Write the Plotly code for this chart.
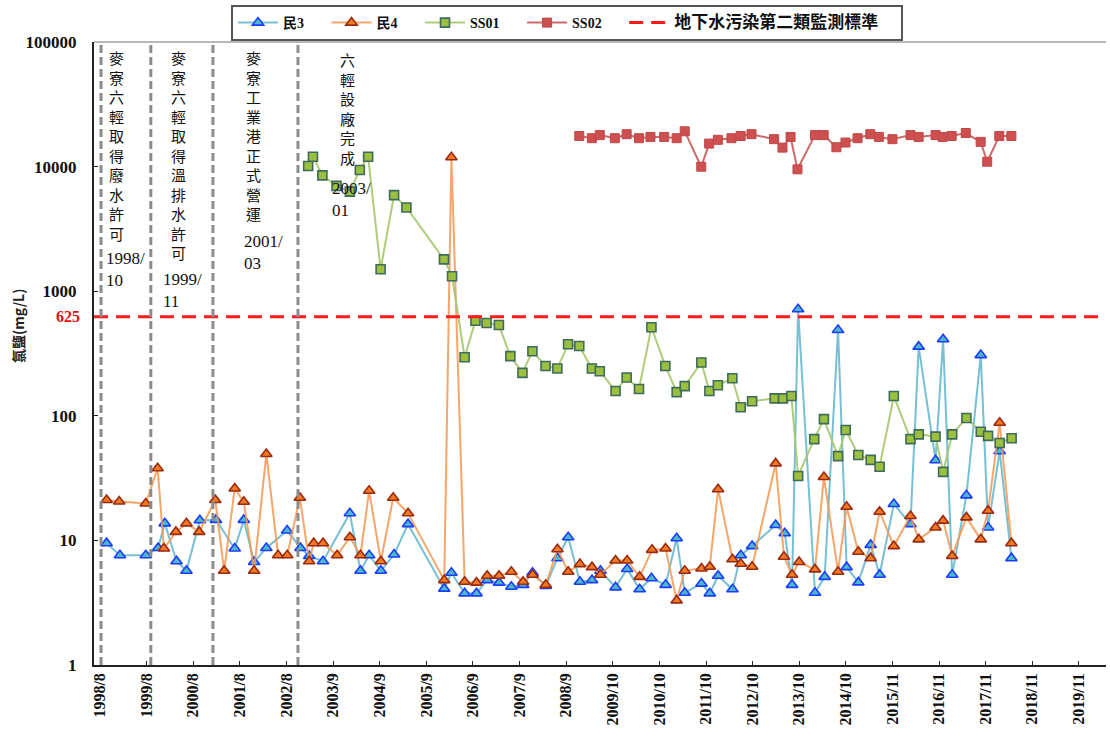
import datetime as dt
import plotly.graph_objects as go

# ---------------- data ----------------
min3_dates = ["1998-10-03","1999-01-17","1999-08-10","1999-11-16","2000-01-08","2000-04-10","2000-06-28",
    "2000-10-12","2001-02-17","2001-07-16","2001-09-26","2001-12-17","2002-03-24","2002-09-05","2002-12-20",
    "2003-02-27","2003-06-17","2004-01-16","2004-04-09","2004-06-17","2004-09-18","2005-01-01","2005-04-22",
    "2006-02-03","2006-04-01","2006-07-15","2006-10-17","2007-01-10","2007-04-14","2007-07-21","2007-10-22",
    "2008-01-05","2008-04-19","2008-07-21","2008-10-14","2009-01-15","2009-04-21","2009-06-27","2009-10-25",
    "2010-01-25","2010-05-04","2010-08-06","2010-11-26","2011-02-22","2011-04-27","2011-09-07","2011-11-12",
    "2012-01-17","2012-05-10","2012-07-15","2012-10-13","2013-04-18","2013-06-29","2013-08-26","2013-10-13",
    "2014-02-24","2014-05-12","2014-08-26","2014-11-02","2015-02-03","2015-05-12","2015-07-22","2015-11-12",
    "2016-03-23","2016-05-27","2016-10-08","2016-12-07","2017-02-17","2017-06-10","2017-10-02","2017-11-29",
    "2018-03-01","2018-06-02"]
min3_values = [9.5,7.6,7.6,8.7,13.7,6.8,5.7,14.5,14.6,8.6,14.6,6.7,8.7,12.0,8.7,7.5,6.8,16.5,5.7,7.6,5.7,7.7,13.5,
    4.1,5.5,3.76,3.76,4.8,4.58,4.25,4.4,5.5,4.3,7.2,10.6,4.66,4.8,5.7,4.2,5.9,4.05,4.97,4.4,10.4,3.8,4.5,3.76,
    5.2,4.05,7.6,9.0,13.3,11.4,4.4,716,3.8,5.1,488,6.1,4.6,9.2,5.3,19.6,13.5,359,44,411,5.3,23,307,12.7,52,7.2]

min4_dates = ["1998-10-03","1999-01-11","1999-08-10","1999-11-12","2000-01-01","2000-04-05","2000-06-28",
    "2000-10-07","2001-02-12","2001-04-23","2001-07-16","2001-09-26","2001-12-17","2002-03-24","2002-06-25",
    "2002-09-06","2002-12-15","2003-02-27","2003-04-04","2003-06-17","2003-10-07","2004-01-16","2004-04-09",
    "2004-06-17","2004-09-18","2004-12-25","2005-04-22","2006-02-03","2006-04-01","2006-07-15","2006-10-17",
    "2007-01-10","2007-04-14","2007-07-21","2007-10-22","2008-01-05","2008-04-19","2008-07-21","2008-10-14",
    "2009-01-15","2009-04-21","2009-06-27","2009-10-25","2010-01-25","2010-05-04","2010-08-11","2010-11-26",
    "2011-02-22","2011-04-27","2011-09-07","2011-11-12","2012-01-17","2012-05-10","2012-07-15","2012-10-13",
    "2013-04-18","2013-06-23","2013-08-26","2013-10-21","2014-02-24","2014-05-06","2014-08-26","2014-11-02",
    "2015-02-03","2015-05-12","2015-07-22","2015-11-12","2016-03-23","2016-05-27","2016-10-08","2016-12-07",
    "2017-02-17","2017-06-10","2017-10-02","2017-11-29","2018-03-01","2018-06-02"]
min4_values = [21.1,20.5,19.8,37.9,8.6,11.7,13.7,11.7,21.1,5.7,26.1,20.4,5.7,49.4,7.6,7.6,22,6.8,9.5,9.5,7.6,
    10.6,7.6,25,6.8,22,16.5,4.8,11880,4.66,4.58,5.2,5.2,5.6,4.66,5.3,4.4,8.5,5.6,6.45,6.1,5.3,6.9,6.9,5.1,8.4,
    8.6,3.3,5.7,5.95,6.15,25.7,7.06,6.5,6.15,41.5,7.4,5.3,6.7,5.85,32.3,5.6,18.6,8.1,7.2,17,9.0,15.7,10.2,12.7,
    14.4,7.5,15.3,10.2,17.3,88,9.5]

ss01_dates = ["2003-02-19","2003-03-29","2003-06-12","2003-10-02","2004-01-16","2004-04-04","2004-06-09",
    "2004-09-16","2005-01-01","2005-04-09","2006-02-01","2006-04-06","2006-07-15","2006-10-09","2007-01-05",
    "2007-04-13","2007-07-13","2007-10-17","2008-01-04","2008-04-17","2008-07-20","2008-10-13","2009-01-10",
    "2009-04-20","2009-06-22","2009-10-25","2010-01-21","2010-04-29","2010-08-06","2010-11-24","2011-02-22",
    "2011-04-27","2011-09-06","2011-11-09","2012-01-15","2012-05-09","2012-07-14","2012-10-13","2013-04-10",
    "2013-06-15","2013-08-21","2013-10-13","2014-02-18","2014-05-06","2014-08-26","2014-10-26","2015-02-03",
    "2015-05-12","2015-07-22","2015-11-12","2016-03-23","2016-05-28","2016-10-08","2016-12-07","2017-02-17",
    "2017-06-10","2017-10-02","2017-11-29","2018-03-01","2018-06-04"]
ss01_values = [10100,12000,8500,7000,6300,9400,12000,1500,5900,4700,1800,1320,295,580,555,535,301,221,330,251,
    240,375,363,240,228,158,203,164,513,251,155,173,268,158,176,200,117,131,138,138,144,32.9,65,94,47.5,77,
    48.4,44.3,39,144,65,71,68,35.5,71,96,74.5,69,60.5,66]

ss02_dates = ["2009-01-10","2009-04-20","2009-06-22","2009-10-19","2010-01-21","2010-04-29","2010-07-29",
    "2010-11-15","2011-02-22","2011-04-27","2011-09-05","2011-11-07","2012-01-15","2012-05-02","2012-07-14",
    "2012-10-08","2013-04-05","2013-06-11","2013-08-14","2013-10-08","2014-02-24","2014-05-04","2014-08-13",
    "2014-10-24","2015-01-28","2015-05-09","2015-07-16","2015-11-01","2016-03-23","2016-05-27","2016-10-08",
    "2016-12-03","2017-02-13","2017-06-05","2017-10-01","2017-11-22","2018-02-26","2018-06-02"]
ss02_values = [17600,16900,17900,16900,18200,16900,17300,17300,16900,19200,9980,15300,16400,16900,17600,18200,
    16600,14200,17300,9510,17900,17900,14300,15600,16900,18200,17300,16600,17900,17300,17900,17300,17600,
    18600,15800,10940,17600,17600]

standard_value = 625
standard_name = "地下水污染第二類監測標準"

tick_labels = ["1998/8","1999/8","2000/8","2001/8","2002/8","2003/9","2004/9","2005/9","2006/9","2007/9",
    "2008/9","2009/10","2010/10","2011/10","2012/10","2013/10","2014/10","2015/11","2016/11","2017/11",
    "2018/11","2019/11"]
tick_start = dt.date(1998, 8, 12)
tick_step_days = 370
x_range = ["1998-06-25", "2020-06-22"]

event_dates = ["1998-08-20", "1999-09-19", "2001-01-24", "2002-11-30"]
event_texts = ["麥寮六輕取得廢水許可", "麥寮六輕取得溫排水許可", "麥寮工業港正式營運", "六輕設廠完成"]
event_labels = ["1998/<br>10", "1999/<br>11", "2001/<br>03", "2003/<br>01"]

tick_vals = [(tick_start + dt.timedelta(days=tick_step_days * k)).isoformat() for k in range(len(tick_labels))]

# ---------------- figure ----------------
SERIF = "Liberation Serif, Noto Sans CJK TC, serif"
PAD = "\u00a0" * 5

def leg(name, size=None):
    if size:
        return "<b><span style='font-size:%dpx'>%s</span></b>%s" % (size, name, PAD)
    return "<b>%s</b>%s" % (name, PAD)

fig = go.Figure()

fig.add_trace(go.Scatter(x=min3_dates, y=min3_values, name=leg("民3"), mode="lines+markers",
    line=dict(color="rgba(95,180,205,0.85)", width=2),
    marker=dict(symbol="triangle-up", size=10, color="#4fb8c8", line=dict(color="#1a3cff", width=1.6))))
fig.add_trace(go.Scatter(x=min4_dates, y=min4_values, name=leg("民4"), mode="lines+markers",
    line=dict(color="rgba(244,150,80,0.85)", width=2),
    marker=dict(symbol="triangle-up", size=10, color="#f07a22", line=dict(color="#9a2a10", width=1.6))))
fig.add_trace(go.Scatter(x=ss01_dates, y=ss01_values, name=leg("SS01"), mode="lines+markers",
    line=dict(color="rgba(165,198,110,0.9)", width=2),
    marker=dict(symbol="square", size=9, color="#9bc03e", line=dict(color="#3f6a5c", width=1.6))))
fig.add_trace(go.Scatter(x=ss02_dates, y=ss02_values, name=leg("SS02"), mode="lines+markers",
    line=dict(color="rgba(200,90,90,0.9)", width=2),
    marker=dict(symbol="square", size=9, color="#cd4f4f", line=dict(color="#c04848", width=1))))
fig.add_trace(go.Scatter(x=x_range, y=[standard_value, standard_value], name=leg(standard_name, 17),
    mode="lines", line=dict(color="#ff1a1a", width=3, dash="14px,8px")))

# event vertical dashed lines
for d in event_dates:
    fig.add_shape(type="line", xref="x", yref="paper", x0=d, x1=d, y0=0, y1=1,
                  line=dict(color="#8c8c8c", width=3, dash="8px,4px"))

# top border of plot area
fig.add_shape(type="line", xref="paper", yref="paper", x0=0, x1=1, y0=1, y1=1,
              line=dict(color="#a0a0a0", width=1.5))

L, R, T, B, W, H = 94, 4, 42, 72, 1110, 737
pw, ph = W - L - R, H - T - B
def px(x): return (x - L) / pw
def py(y): return (H - B - y) / ph

# event annotations (vertical Chinese text + date)
cn_pos = [(116, 45), (178, 45), (253, 45), (347, 47)]
dt_pos = [(104, 247), (161, 268), (242, 230), (330, 177)]
for txt, lab, (cx, cy), (dx, dy) in zip(event_texts, event_labels, cn_pos, dt_pos):
    fig.add_annotation(xref="paper", yref="paper", x=px(cx), y=py(cy), xanchor="center", yanchor="top",
                       text="<br>".join(list(txt)), showarrow=False, align="center",
                       font=dict(family="Noto Sans CJK TC", size=15, color="#111"))
    fig.add_annotation(xref="paper", yref="paper", x=px(dx), y=py(dy), xanchor="left", yanchor="top",
                       text=lab, showarrow=False, align="left",
                       font=dict(family="Liberation Serif", size=17, color="#111"))

# red 625 label
fig.add_annotation(xref="paper", yref="y", x=px(82), y=2.7959, xanchor="right", yanchor="middle",
                   text="<b>625</b>", showarrow=False, font=dict(family="Liberation Serif", size=16, color="#e01010"))
# y title
fig.add_annotation(xref="paper", yref="paper", x=px(18), y=py(326), xanchor="center", yanchor="middle",
                   text="<b>氯鹽(mg/L)</b>", textangle=-90, showarrow=False,
                   font=dict(family="Noto Sans CJK TC", size=14, color="#222"))

fig.update_layout(
    width=W, height=H, margin=dict(l=L, r=R, t=T, b=B, autoexpand=False),
    paper_bgcolor="white", plot_bgcolor="white",
    showlegend=True,
    legend=dict(orientation="h", xref="container", yref="container", x=231 / W, y=1 - 5 / H,
                xanchor="left", yanchor="top",
                bordercolor="#555", borderwidth=2, bgcolor="white",
                font=dict(family=SERIF, size=14, color="#111"), itemwidth=40),
    xaxis=dict(type="date", range=x_range, tickvals=tick_vals, ticktext=["<b>%s</b>" % t for t in tick_labels],
               tickangle=-90, ticks="inside", ticklen=4, tickcolor="#222", automargin=False,
               showline=True, linecolor="#222", linewidth=1.5, showgrid=False, zeroline=False,
               tickfont=dict(family="Liberation Serif", size=16, color="#111")),
    yaxis=dict(type="log", range=[0, 5], tickvals=[1, 10, 100, 1000, 10000, 100000],
               ticktext=["<b>1</b>", "<b>10</b>", "<b>100</b>", "<b>1000</b>", "<b>10000</b>", "<b>100000</b>"],
               ticks="inside", ticklen=4, tickcolor="#222", automargin=False, ticklabelstandoff=12,
               showline=True, linecolor="#222", linewidth=2, showgrid=False, zeroline=False,
               tickfont=dict(family="Liberation Serif", size=17, color="#111")),
)

fig.write_html("out.html", config={"displayModeBar": False},
               post_script="document.body.style.margin='0px';")
